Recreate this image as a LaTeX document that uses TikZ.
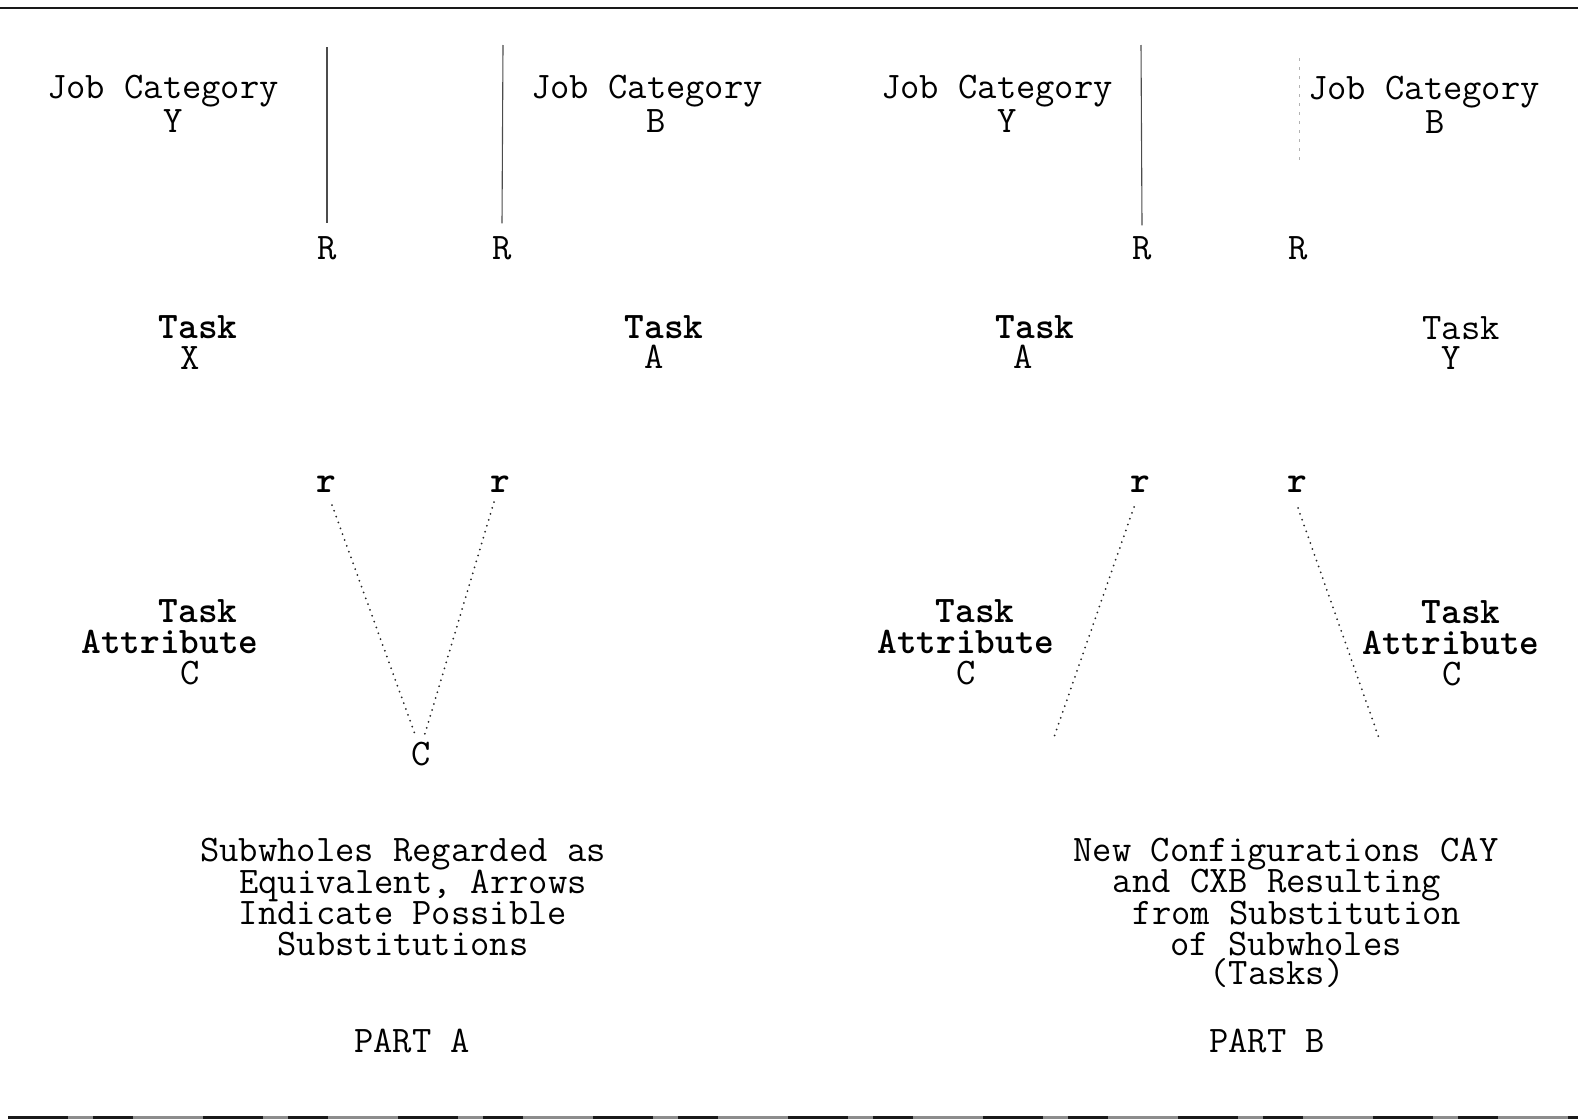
\documentclass[tikz,border=0pt]{standalone}
\usepackage{fontspec}
\begin{document}
\begin{tikzpicture}[x=1pt,y=-1pt,
  lbl/.style={inner sep=0pt, text height=20pt, text depth=5pt, font=\fontsize{37.5}{44}\selectfont\ttfamily},
  blbl/.style={lbl, font=\fontsize{37.5}{44}\selectfont\ttfamily\bfseries},
  vline/.style={line width=1.1pt, black!70},
  dotline/.style={line width=2pt, line cap=round, dash pattern=on 0pt off 6.2pt, black!85},
  faint/.style={line width=1pt, black!30, dash pattern=on 3pt off 6pt},
  rule/.style={line width=2.5pt, black!90}]
\useasboundingbox (0,0) rectangle (1578,1119);
% frame rules
\coordinate (tl) at (0,8);
\coordinate (tr) at (1578,8);
\coordinate (bl) at (8,1117);
\coordinate (br) at (1578,1117);
\draw[rule] (tl) -- (tr);
\draw[line width=3pt, black!45] (bl) -- (br);
\draw[line width=3pt, black!90, dash pattern=on 60pt off 25pt on 40pt off 70pt] (bl) -- (br);

% ---------- PART A ----------
\node[lbl] (jcA1) at (163,91) {Job Category};
\node[lbl] (jcA1b) at (173,125) {Y};
\node[lbl] (jcA2) at (647,91) {Job Category};
\node[lbl] (jcA2b) at (656,125) {B};
\node[lbl] (RA1) at (327,252) {R};
\node[lbl] (RA2) at (502,252) {R};
\coordinate (tA1) at (327,47);
\coordinate (tA2) at (503,45);
\draw[vline] (tA1) -- ([yshift=16pt]RA1.north);
\draw[vline] (tA2) -- ([yshift=16pt]RA2.north);

\node[blbl] (tkA1) at (198,331) {Task};
\node[lbl] (tkA1b) at (190,362) {X};
\node[blbl] (tkA2) at (664,331) {Task};
\node[lbl] (tkA2b) at (654,361) {A};

\node[blbl] (rA1) at (326,485) {r};
\node[blbl] (rA2) at (500,485) {r};

\node[blbl] (taA1) at (198,615) {Task};
\node[blbl] (taA2) at (170,646) {Attribute};
\node[lbl] (taA3) at (190,677) {C};

\node[lbl] (cA) at (421,758) {C};
\coordinate (vA1) at (332,505);
\coordinate (vA2) at (494,502);
\coordinate (vAe1) at (416,737);
\coordinate (vAe2) at (424,737);
\draw[dotline] (vA1) -- (vAe1);
\draw[dotline] (vA2) -- (vAe2);

\node[lbl] (capA1) at (403,854) {Subwholes Regarded as};
\node[lbl] (capA2) at (413,886) {Equivalent, Arrows};
\node[lbl] (capA3) at (403,917) {Indicate Possible};
\node[lbl] (capA4) at (403,948) {Substitutions};
\node[lbl] (partA) at (412,1045) {PART A};

% ---------- PART B ----------
\node[lbl] (jcB1) at (997,91) {Job Category};
\node[lbl] (jcB1b) at (1007,125) {Y};
\node[lbl] (jcB2) at (1424,92) {Job Category};
\node[lbl] (jcB2b) at (1435,126) {B};
\node[lbl] (RB1) at (1142,252) {R};
\node[lbl] (RB2) at (1298,252) {R};
\coordinate (tB1) at (1141,45);
\coordinate (tB2) at (1299,58);
\coordinate (eB2) at (1299,163);
\draw[vline] (tB1) -- ([yshift=14pt]RB1.north);
\draw[faint] (tB2) -- (eB2);

\node[blbl] (tkB1) at (1035,331) {Task};
\node[lbl] (tkB1b) at (1023,361) {A};
\node[lbl] (tkB2) at (1461,332) {Task};
\node[lbl] (tkB2b) at (1451,362) {Y};

\node[blbl] (rB1) at (1140,485) {r};
\node[blbl] (rB2) at (1297,485) {r};

\node[blbl] (tbB1) at (975,615) {Task};
\node[blbl] (tbB2) at (966,646) {Attribute};
\node[lbl] (tbB3) at (966,677) {C};
\node[blbl] (tcB1) at (1461,616) {Task};
\node[blbl] (tcB2) at (1451,647) {Attribute};
\node[lbl] (tcB3) at (1452,678) {C};

\coordinate (vB1) at (1134,507);
\coordinate (vBe1) at (1053,740);
\coordinate (vB2) at (1298,508);
\coordinate (vBe2) at (1380,741);
\draw[dotline] (vB1) -- (vBe1);
\draw[dotline] (vB2) -- (vBe2);

\node[lbl] (capB1) at (1286,854) {New Configurations CAY};
\node[lbl] (capB2) at (1277,885) {and CXB Resulting};
\node[lbl] (capB3) at (1297,917) {from Substitution};
\node[lbl] (capB4) at (1286,948) {of Subwholes};
\node[lbl] (capB5) at (1277,977) {(Tasks)};
\node[lbl] (partB) at (1267,1045) {PART B};
\end{tikzpicture}
\end{document}
